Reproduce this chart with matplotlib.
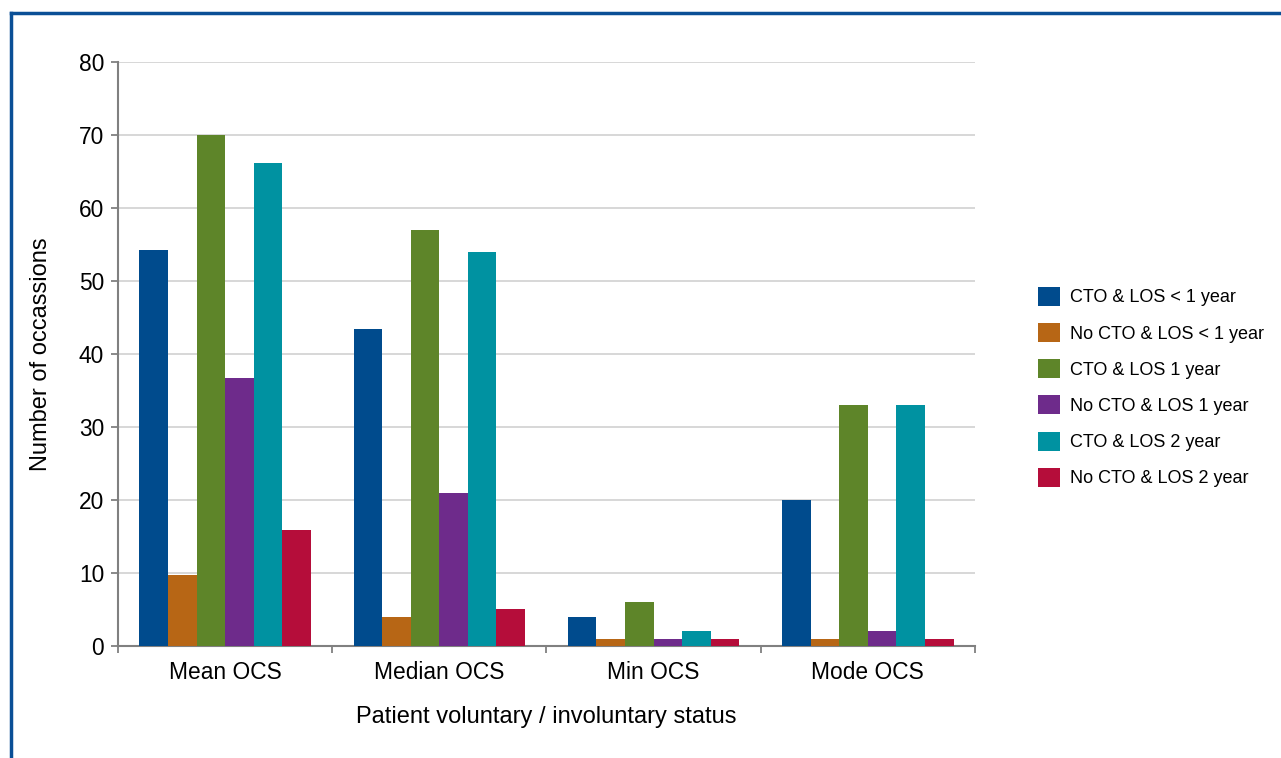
import matplotlib
matplotlib.use("Agg")
import matplotlib.pyplot as plt
from matplotlib.lines import Line2D
import numpy as np

plt.rcParams['font.family'] = ['Liberation Sans', 'DejaVu Sans']

categories = ["Mean OCS", "Median OCS", "Min OCS", "Mode OCS"]
series_names = ["CTO & LOS < 1 year", "No CTO & LOS < 1 year", "CTO & LOS 1 year",
                "No CTO & LOS 1 year", "CTO & LOS 2 year", "No CTO & LOS 2 year"]
cto_lt1 = [54.2, 43.5, 4, 20]
nocto_lt1 = [9.7, 4, 1, 1]
cto_1 = [70, 57, 6, 33]
nocto_1 = [36.7, 21, 1, 2]
cto_2 = [66.2, 54, 2, 33]
nocto_2 = [15.9, 5, 1, 1]
series = [cto_lt1, nocto_lt1, cto_1, nocto_1, cto_2, nocto_2]
colors = ["#004B8D", "#B76615", "#5E8529", "#6E2B8B", "#0092A1", "#B50D3A"]

fig = plt.figure(figsize=(12.81, 7.58), dpi=100)
ax = fig.add_axes([0.0921, 0.1478, 0.669, 0.7702])

n = len(series)
group_w = 0.8
bw = group_w / n
x = np.arange(len(categories))
for i, (vals, c, name) in enumerate(zip(series, colors, series_names)):
    ax.bar(x - group_w / 2 + bw * (i + 0.5), vals, width=bw, color=c, label=name,
           zorder=3, linewidth=0)

ax.set_xlim(-0.5, len(categories) - 0.5)
ax.set_ylim(0, 80)
ax.set_yticks(np.arange(0, 81, 10))
ax.yaxis.grid(True, color="#d4d4d4", linewidth=1.3, zorder=0)
ax.set_axisbelow(True)

ax.set_xticks(x)
ax.set_xticklabels(categories, fontsize=16.4)
ax.set_xticks(np.arange(-0.5, len(categories), 1), minor=True)
ax.tick_params(axis='x', which='major', length=0, pad=11)
ax.tick_params(axis='x', which='minor', length=5, color="#808080", width=1.3)
ax.tick_params(axis='y', length=5, color="#808080", width=1.3, labelsize=16.4, pad=5)

for s in ["top", "right"]:
    ax.spines[s].set_visible(False)
for s in ["left", "bottom"]:
    ax.spines[s].set_color("#808080")
    ax.spines[s].set_linewidth(1.5)

ax.set_ylabel("Number of occassions", fontsize=17, labelpad=19)
ax.set_xlabel("Patient voluntary / involuntary status", fontsize=17, labelpad=16)

leg = ax.legend(loc="center left", bbox_to_anchor=(1.073, 0.4435), frameon=False,
                fontsize=13, handlelength=1.25, handleheight=1.25,
                labelspacing=0.92, handletextpad=0.55, borderaxespad=0, borderpad=0)

# frame lines (top and left only)
fig.add_artist(Line2D([10.5 / 1281, 1.0], [1 - 12.5 / 758, 1 - 12.5 / 758],
                      transform=fig.transFigure, color="#0A4F96", linewidth=2.5))
fig.add_artist(Line2D([10.5 / 1281, 10.5 / 1281], [0, 1 - 12.5 / 758],
                      transform=fig.transFigure, color="#0A4F96", linewidth=2.5))

fig.savefig("out.png", dpi=100)
